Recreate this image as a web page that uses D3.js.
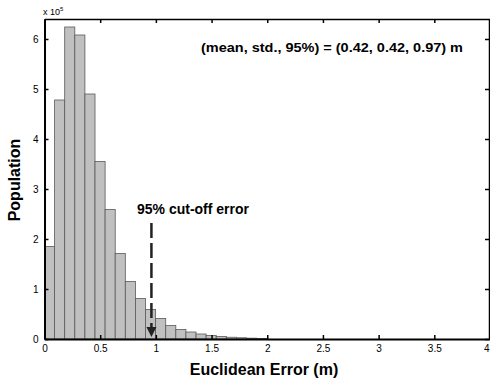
<!DOCTYPE html>
<html>
<head>
<meta charset="utf-8">
<script src="https://cdn.jsdelivr.net/npm/d3@7"></script>
<style>
  body { margin: 0; background: #fff; }
  svg { display: block; font-family: Arial, "Liberation Sans", sans-serif; }
</style>
</head>
<body>
<svg width="490" height="383"></svg>
<script>
// histogram counts (x 10^5), one per bin, bin width ~0.0907 m
let binWidth = 0.0907;
let counts = [1.85, 4.78, 6.24, 6.08, 4.90, 3.55, 2.59, 1.71, 1.15, 0.81, 0.59, 0.41,
              0.27, 0.19, 0.14, 0.10, 0.07, 0.05, 0.035, 0.025, 0.017, 0.011];
let xTicks = [0, 0.5, 1, 1.5, 2, 2.5, 3, 3.5, 4];
let yTicks = [0, 1, 2, 3, 4, 5, 6];
let cutoff = 0.96;

let svg = d3.select("svg");
let plotLeft = 44.5, plotRight = 490, plotTop = 19, plotBottom = 339;
let x = d3.scaleLinear().domain([0, 4]).range([plotLeft, plotRight]);
let y = d3.scaleLinear().domain([0, 6.4]).range([plotBottom, plotTop]);

// bars
svg.append("g").selectAll("rect").data(counts).enter().append("rect")
    .attr("x", (d, i) => x(i * binWidth))
    .attr("width", (d, i) => x((i + 1) * binWidth) - x(i * binWidth))
    .attr("y", d => y(d))
    .attr("height", d => y(0) - y(d))
    .attr("fill", "#c0c0c0")
    .attr("stroke", "#5a5a5a")
    .attr("stroke-width", 0.8);

// axes (ticks pointing inward, like matlab)
let xAxis = d3.axisBottom(x).tickValues(xTicks).tickSizeInner(-4).tickSizeOuter(0).tickPadding(6)
    .tickFormat(d3.format("~g"));
let yAxis = d3.axisLeft(y).tickValues(yTicks).tickSizeInner(-4).tickSizeOuter(0).tickPadding(6)
    .tickFormat(d3.format("~g"));

let gx = svg.append("g").attr("transform", "translate(0," + plotBottom + ")").call(xAxis);
let gy = svg.append("g").attr("transform", "translate(" + plotLeft + ",0)").call(yAxis);
let gxt = svg.append("g").attr("transform", "translate(0," + plotTop + ")")
    .call(d3.axisTop(x).tickValues(xTicks).tickSizeInner(-4).tickSizeOuter(0).tickFormat(""));
let gyr = svg.append("g").attr("transform", "translate(" + (plotRight - 1) + ",0)")
    .call(d3.axisRight(y).tickValues(yTicks).tickSizeInner(-4).tickSizeOuter(0).tickFormat(""));

[gx, gy, gxt, gyr].forEach(g => {
    g.select(".domain").attr("stroke", "#000").attr("stroke-width", 1.5);
    g.selectAll(".tick line").attr("stroke", "#000").attr("stroke-width", 1.5);
    g.selectAll(".tick text").attr("fill", "#000").style("font-size", "10px");
});
gx.select(".domain").attr("stroke-width", 2);
gy.select(".domain").attr("stroke-width", 2);
// last x label sits on the image edge
gx.selectAll(".tick text").filter(d => d === 4).attr("text-anchor", "end").attr("dx", -1);

// exponent label
let ex = svg.append("text").attr("x", 43).attr("y", 15).style("font-size", "9px").text("x 10");
ex.append("tspan").attr("dy", -4).style("font-size", "6px").text("5");

// axis titles
svg.append("text")
    .attr("x", 264).attr("y", 375)
    .attr("text-anchor", "middle")
    .style("font-size", "16px").style("font-weight", "bold")
    .text("Euclidean Error (m)");
svg.append("text")
    .attr("transform", "translate(20,180) rotate(-90)")
    .attr("text-anchor", "middle")
    .style("font-size", "16px").style("font-weight", "bold")
    .text("Population");

// annotations
svg.append("text")
    .attr("x", 201).attr("y", 52)
    .attr("textLength", 262).attr("lengthAdjust", "spacingAndGlyphs")
    .style("font-size", "13px").style("font-weight", "bold")
    .text("(mean, std., 95%) = (0.42, 0.42, 0.97) m");
svg.append("text")
    .attr("x", 137).attr("y", 214)
    .style("font-size", "14px").style("font-weight", "bold")
    .text("95% cut-off error");

svg.append("line")
    .attr("x1", x(cutoff)).attr("x2", x(cutoff))
    .attr("y1", 223).attr("y2", 328)
    .attr("stroke", "#222").attr("stroke-width", 2.5)
    .attr("stroke-dasharray", "15,5");
svg.append("path")
    .attr("d", d3.line()([[x(cutoff) - 5, 327], [x(cutoff) + 5, 327], [x(cutoff), 337]]) + "Z")
    .attr("fill", "#222");
</script>
</body>
</html>
